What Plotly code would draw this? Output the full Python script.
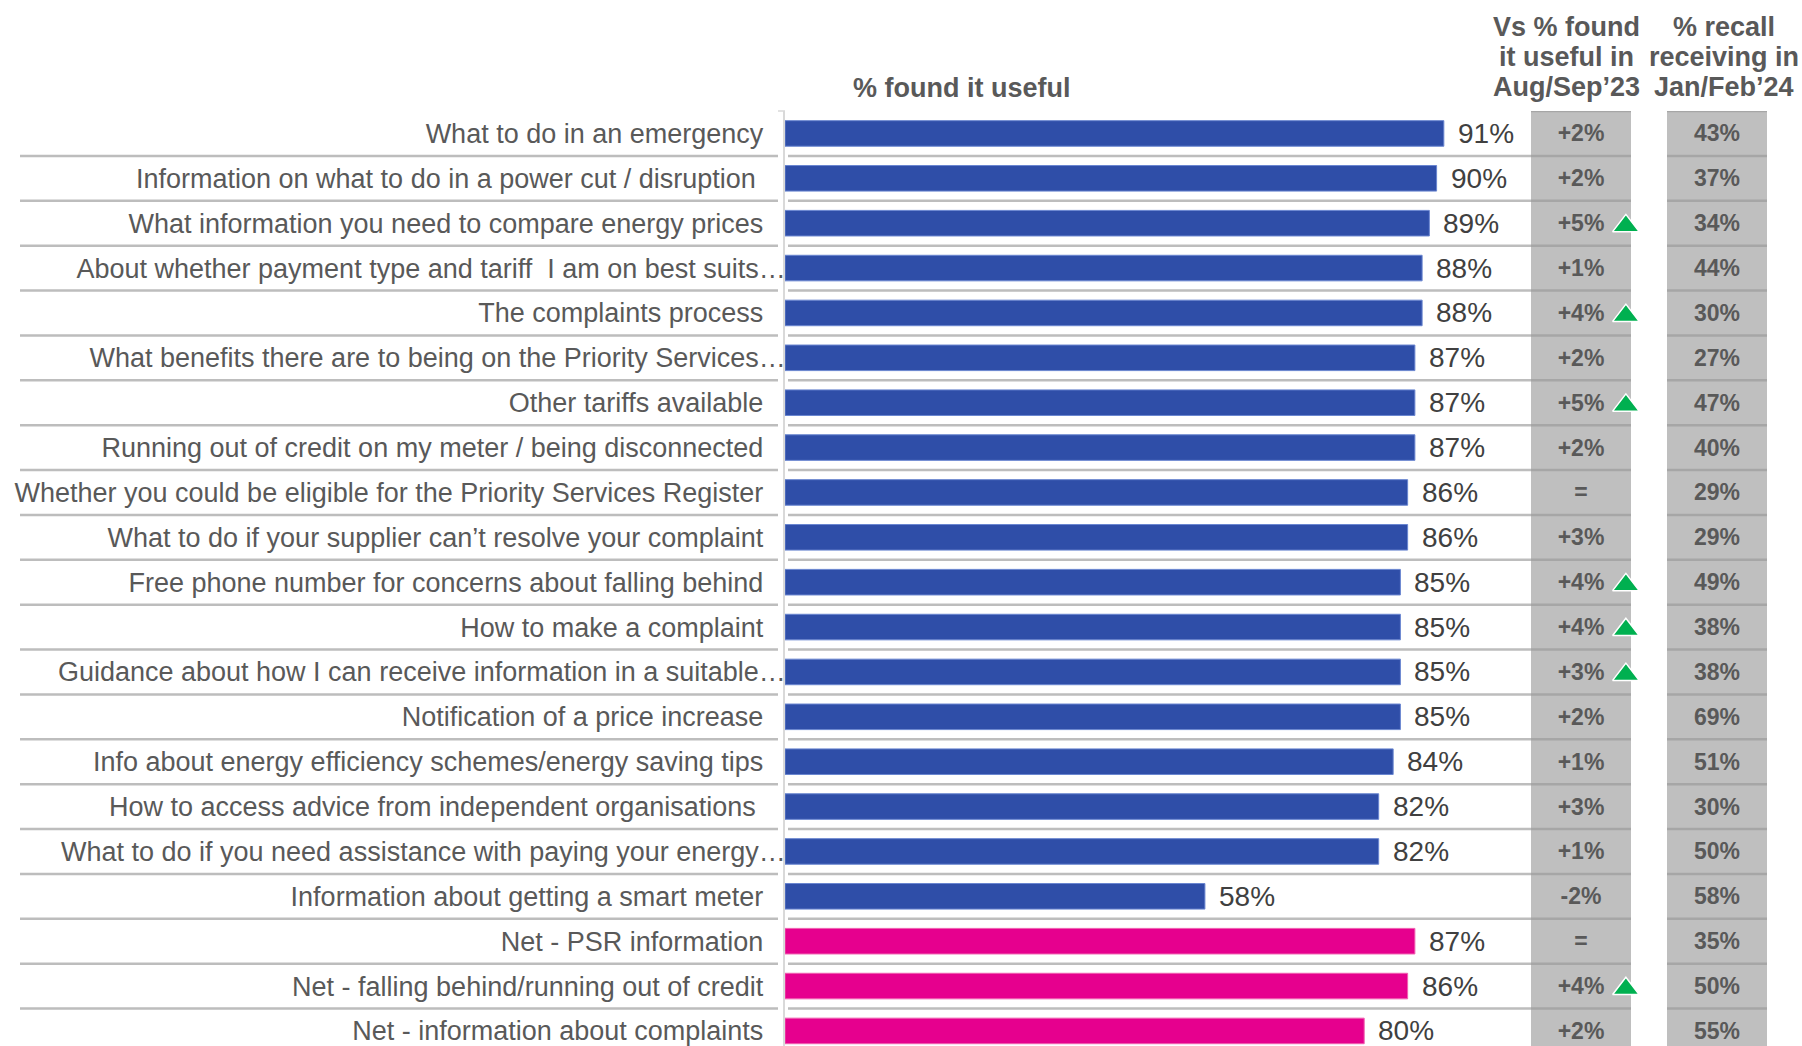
import plotly.graph_objects as go

# ---- data -------------------------------------------------------------
categories = [
    "What to do in an emergency",
    "Information on what to do in a power cut / disruption ",
    "What information you need to compare energy prices",
    "About whether payment type and tariff\u00a0 I am on best suits…",
    "The complaints process",
    "What benefits there are to being on the Priority Services…",
    "Other tariffs available",
    "Running out of credit on my meter / being disconnected",
    "Whether you could be eligible for the Priority Services Register",
    "What to do if your supplier can’t resolve your complaint",
    "Free phone number for concerns about falling behind",
    "How to make a complaint",
    "Guidance about how I can receive information in a suitable…",
    "Notification of a price increase",
    "Info about energy efficiency schemes/energy saving tips",
    "How to access advice from independent organisations ",
    "What to do if you need assistance with paying your energy…",
    "Information about getting a smart meter",
    "Net - PSR information",
    "Net - falling behind/running out of credit",
    "Net - information about complaints",
]
found_useful = [91, 90, 89, 88, 88, 87, 87, 87, 86, 86, 85, 85, 85, 85, 84, 82, 82, 58, 87, 86, 80]
vs_aug_sep23 = ["+2%", "+2%", "+5%", "+1%", "+4%", "+2%", "+5%", "+2%", "=", "+3%", "+4%",
                "+4%", "+3%", "+2%", "+1%", "+3%", "+1%", "-2%", "=", "+4%", "+2%"]
significant_up = [False, False, True, False, True, False, True, False, False, False, True,
                  True, True, False, False, False, False, False, False, True, False]
recall_jan_feb24 = [43, 37, 34, 44, 30, 27, 47, 40, 29, 29, 49, 38, 38, 69, 51, 30, 50, 58, 35, 50, 55]

bar_title = "% found it useful"
col_headers = [["Vs % found", "it useful in", "Aug/Sep’23"],
               ["% recall", "receiving in", "Jan/Feb’24"]]

# ---- styling ------------------------------------------------------------
W, H = 1802, 1046
FONT = "Liberation Sans, Arial, sans-serif"
TXT = "#595959"
BLUE, BLUE_EDGE = "#2F4EA8", "#6A86D0"
PINK, PINK_EDGE = "#E6008E", "#F060B0"
GREY_COL = "#BFBFBF"
SEP = "#BDBDBD"
SEP_DARK = "#A6A6A6"
NBSP = "\u00a0"

def fx(px):
    return px / W

def fy(py):
    return 1 - py / H

n = len(categories)
rows = list(range(n))
top_px = 111
pitch = 44.875
y_top = -0.5
y_bottom = y_top + (H - top_px) / pitch

# category labels: right aligned, shortened ones run up to the axis
ticktext = []
for lab in categories:
    if lab.endswith("…"):
        ticktext.append(lab)
    else:
        trail = len(lab) - len(lab.rstrip(" "))
        ticktext.append(lab.rstrip(" ") + NBSP * (3 + trail))

is_net = [c.startswith("Net - ") for c in categories]
bar_colors = [PINK if f else BLUE for f in is_net]
edge_colors = [PINK_EDGE if f else BLUE_EDGE for f in is_net]

fig = go.Figure()

fig.add_trace(go.Bar(
    x=found_useful, y=rows, orientation="h",
    width=0.57,
    marker=dict(color=bar_colors, line=dict(color=edge_colors, width=1)),
    hoverinfo="skip", showlegend=False,
))

# comparison columns
text_dy = 0.05
fig.add_trace(go.Scatter(
    x=[0] * n, y=[r + text_dy for r in rows], mode="text", text=vs_aug_sep23,
    textfont=dict(family=FONT, size=23, color=TXT, weight="bold"),
    xaxis="x2", yaxis="y", hoverinfo="skip", showlegend=False,
))
fig.add_trace(go.Scatter(
    x=[1] * n, y=[r + text_dy for r in rows], mode="text",
    text=[f"{v}%" for v in recall_jan_feb24],
    textfont=dict(family=FONT, size=23, color=TXT, weight="bold"),
    xaxis="x2", yaxis="y", hoverinfo="skip", showlegend=False,
))
up_rows = [r for r, s in zip(rows, significant_up) if s]
fig.add_trace(go.Scatter(
    x=[0.33] * len(up_rows), y=[r + 0.06 for r in up_rows], mode="markers",
    marker=dict(symbol="triangle-up", size=23, color="#00B050",
                line=dict(color="white", width=1.5)),
    xaxis="x2", yaxis="y", hoverinfo="skip", showlegend=False,
))

shapes = []
col_half = 50 / 136
for c in (0, 1):
    shapes.append(dict(type="rect", xref="x2", yref="y", layer="below",
                       x0=c - col_half, x1=c + col_half, y0=y_top, y1=y_bottom + 1,
                       fillcolor=GREY_COL, line=dict(width=0)))
    shapes.append(dict(type="line", xref="x2", yref="y", layer="above",
                       x0=c - col_half, x1=c + col_half, y0=y_top, y1=y_top,
                       line=dict(color=SEP_DARK, width=2.5)))

for r in rows[:-1]:
    yb = r + 0.5
    shapes.append(dict(type="line", xref="paper", yref="y", layer="below",
                       x0=fx(20), x1=fx(778), y0=yb, y1=yb,
                       line=dict(color=SEP, width=2.5)))
    shapes.append(dict(type="line", xref="paper", yref="y", layer="below",
                       x0=fx(788), x1=fx(1531), y0=yb, y1=yb,
                       line=dict(color=SEP, width=2.5)))
    for c in (0, 1):
        shapes.append(dict(type="line", xref="x2", yref="y", layer="above",
                           x0=c - col_half, x1=c + col_half, y0=yb, y1=yb,
                           line=dict(color=SEP_DARK, width=2.5)))

# small tick at the top of the category axis
shapes.append(dict(type="line", xref="paper", yref="paper",
                   x0=fx(778), x1=fx(785), y0=fy(top_px), y1=fy(top_px),
                   line=dict(color="#D9D9D9", width=1.5)))

annotations = []
for r, v in zip(rows, found_useful):
    annotations.append(dict(x=v, y=r, xref="x", yref="y", text=f"{v}%",
                            xanchor="left", yanchor="middle", xshift=12, showarrow=False,
                            font=dict(family=FONT, size=28, color="#404040")))

annotations.append(dict(x=fx(961), y=fy(88), xref="paper", yref="paper", text=bar_title,
                        xanchor="center", yanchor="middle", showarrow=False,
                        font=dict(family=FONT, size=27, color=TXT, weight="bold")))
for cx, lines in zip((1566, 1724), col_headers):
    for k, line in enumerate(lines):
        annotations.append(dict(x=fx(cx), y=fy(27 + 30 * k), xref="paper", yref="paper",
                                text=line, xanchor="center", yanchor="middle", showarrow=False,
                                font=dict(family=FONT, size=27, color=TXT, weight="bold")))

fig.update_layout(
    width=W, height=H,
    margin=dict(l=0, r=0, t=0, b=0),
    paper_bgcolor="white", plot_bgcolor="rgba(0,0,0,0)",
    font=dict(family=FONT, color=TXT),
    bargap=0.4,
    xaxis=dict(domain=[fx(785), fx(1509)], range=[0, 100], visible=False, fixedrange=True),
    xaxis2=dict(domain=[fx(1513), fx(1785)], range=[-0.5, 1.5], visible=False,
                anchor="y", fixedrange=True),
    yaxis=dict(domain=[0, fy(top_px)], range=[y_bottom, y_top],
               tickmode="array", tickvals=rows, ticktext=ticktext,
               tickfont=dict(family=FONT, size=27, color=TXT),
               ticklabeloverflow="allow", ticklabelstandoff=-8,
               showline=True, linecolor="#D9D9D9", linewidth=1.5,
               showgrid=False, zeroline=False, ticks="", fixedrange=True),
    shapes=shapes,
    annotations=annotations,
)

fig.write_html("out.html")
